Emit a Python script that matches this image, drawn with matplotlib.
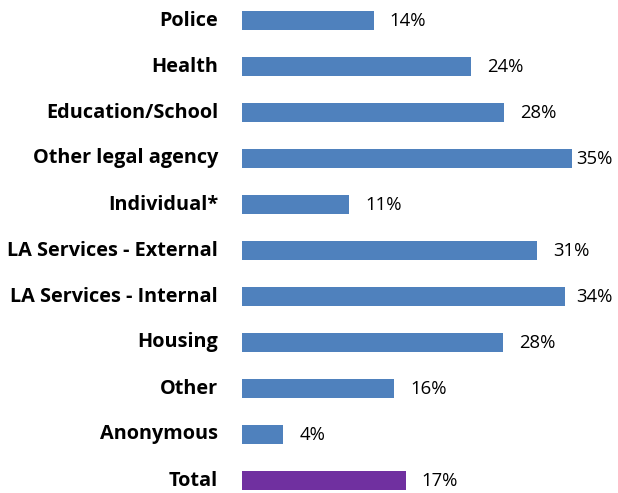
import matplotlib
matplotlib.use("Agg")
import matplotlib.pyplot as plt

categories = ["Police", "Health", "Education/School", "Other legal agency", "Individual*",
              "LA Services - External", "LA Services - Internal", "Housing", "Other",
              "Anonymous", "Total"]
values = [14.0, 24.3, 27.8, 35.0, 11.4, 31.3, 34.3, 27.7, 16.2, 4.4, 17.4]
colors = ["#4F81BD"] * 10 + ["#7030A0"]

W, H = 618, 493
fig = plt.figure(figsize=(W / 100, H / 100), dpi=100)
ax_left = 241.7 / W
ax = fig.add_axes([ax_left, 0, 1 - ax_left, 1])
xmax = (W - 241.7) / 9.43
ax.set_xlim(0, xmax)
row = 46.0
top_c, bot_c = 20.5, 480.5
ax.set_ylim(10 + (H - bot_c) / row, -top_c / row)

ys = list(range(len(categories)))
ax.barh(ys, values, height=0.40, color=colors, linewidth=0)

px = xmax / (W - 241.7)
cap = (576 - 241.7) * px
for y, v in zip(ys, values):
    lx = min(v + 16 * px, cap)
    ax.text(lx, y + 0.02, f"{v:.0f}%", va="center", ha="left", fontsize=13.3,
            family="Open Sans", color="black")
    ax.text(-23.7 * px, y, categories[ys.index(y)], va="center", ha="right",
            fontsize=14.3, family="Open Sans", fontweight="bold", color="black",
            clip_on=False)

ax.axis("off")
fig.savefig("out.png", dpi=100)
